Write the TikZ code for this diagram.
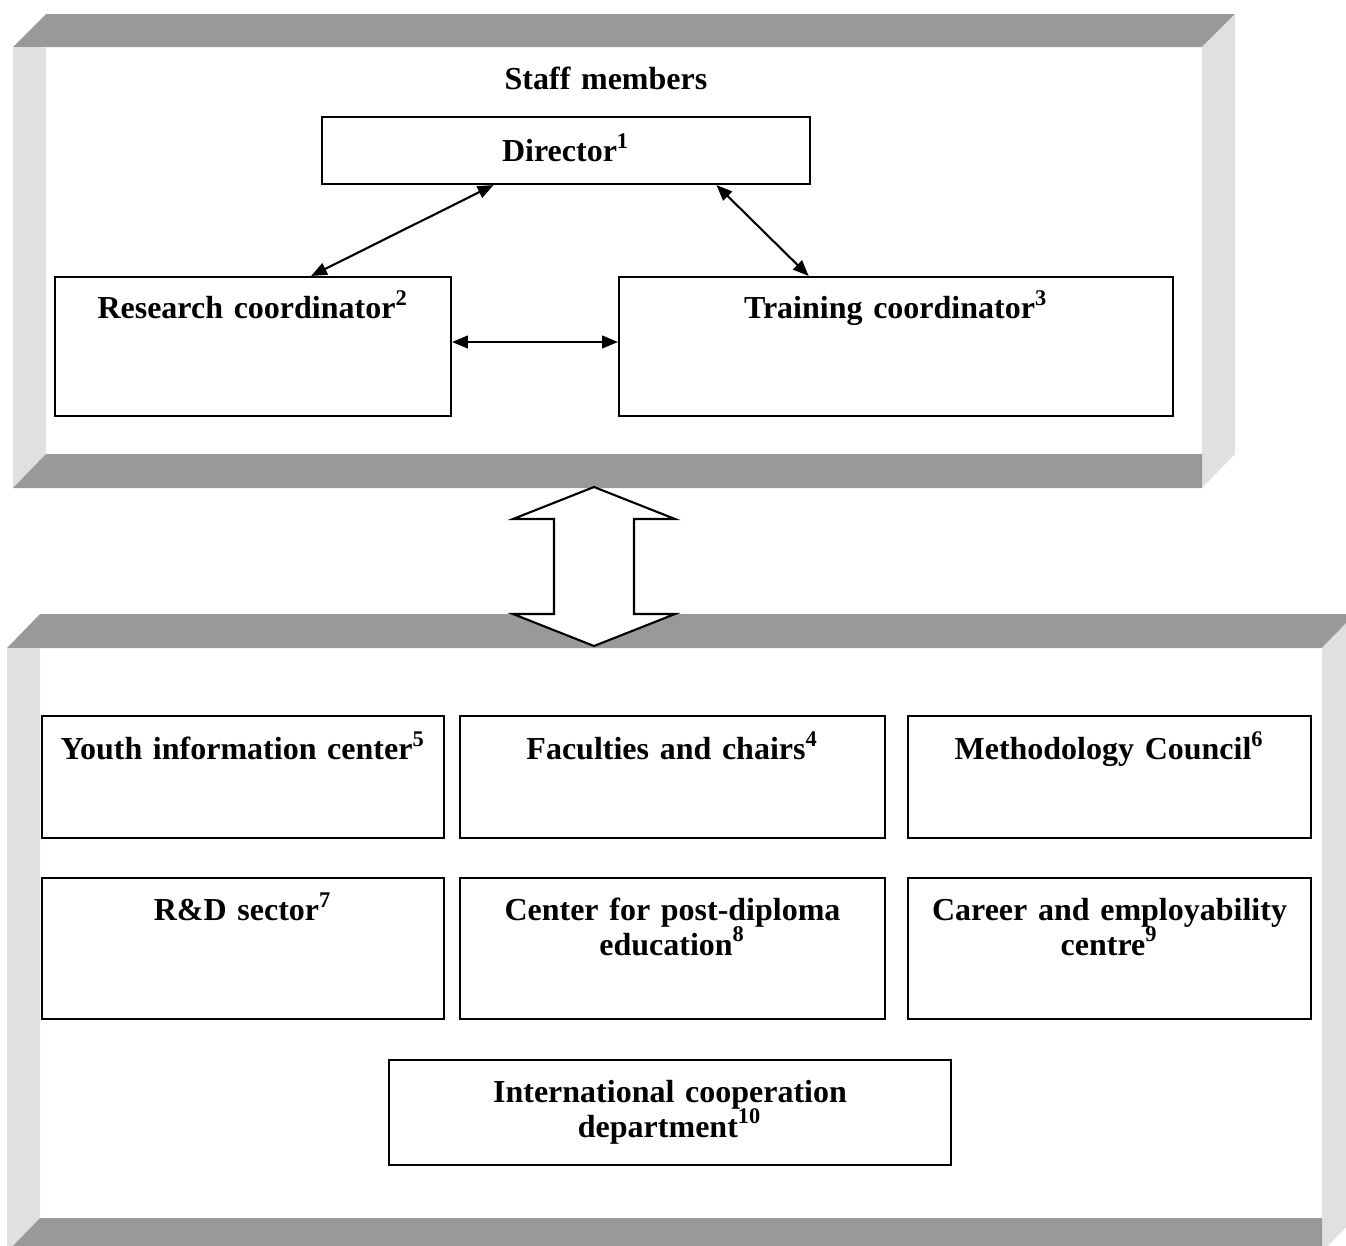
\documentclass[tikz,border=0pt]{standalone}
\usepackage{fontspec}
\setmainfont{Liberation Serif}
\usetikzlibrary{arrows.meta,fit,calc}
\definecolor{bardark}{HTML}{999999}
\definecolor{barlight}{HTML}{E0E0E0}
\tikzset{
 box/.style={draw, line width=0.6pt, fill=white, inner sep=0pt},
 txt/.style={anchor=base, inner sep=0pt, text width=5cm, align=center,
   font=\fontsize{9.1}{9.7}\selectfont\bfseries,
   execute at begin node={\fontsize{9.1}{9.7}\selectfont\bfseries\lineskiplimit=-20pt\relax}},
 link/.style={line width=0.6pt, {Triangle[length=4.5pt,width=3.6pt]}-{Triangle[length=4.5pt,width=3.6pt]}},
 darkbar/.style={fill=bardark},
 lightbar/.style={fill=barlight},
 bigarrow/.style={draw, line width=0.6pt, fill=white, line join=miter}
}
\begin{document}
\begin{tikzpicture}[x=0.01cm,y=-0.01cm]
\useasboundingbox (0,0) rectangle (1346,1245);
\begin{scope}
\clip (0,0) rectangle (1346,1245);
% top frame
\fill[darkbar] (13,47) -- (46,14) -- (1235,14) -- (1202,47) -- cycle;
\fill[lightbar] (13,47) -- (46,47) -- (46,454) -- (13,488) -- cycle;
\fill[lightbar] (1202,47) -- (1235,14) -- (1235,454) -- (1202,488) -- cycle;
\fill[darkbar] (13,488) -- (46,454) -- (1202,454) -- (1202,488) -- cycle;
% bottom frame
\fill[darkbar] (7,648) -- (40,614) -- (1355,614) -- (1322,648) -- cycle;
\fill[lightbar] (7,648) -- (40,648) -- (40,1218) -- (7,1252) -- cycle;
\fill[lightbar] (1322,648) -- (1355,614) -- (1355,1218) -- (1322,1252) -- cycle;
\fill[darkbar] (7,1252) -- (40,1218) -- (1322,1218) -- (1322,1252) -- cycle;
\end{scope}

% big double arrow
\draw[bigarrow] (594,487) -- (675,519) -- (634,519) -- (634,614) -- (675,614)
  -- (594,646) -- (513,614) -- (554,614) -- (554,519) -- (513,519) -- cycle;

% staff members
\node[txt] (staff) at (606,89) {Staff members};

\node[box, fit={(322,117) (810,184)}] (dir) {};
\node[box, fit={(55,277) (451,416)}] (res) {};
\node[box, fit={(619,277) (1173,416)}] (tra) {};
\node[txt] (dirt) at ([yshift=-0.46cm]dir.north) {Director\textsuperscript{1}};
\node[txt] (rest) at ([yshift=-0.43cm]res.north) {Research coordinator\textsuperscript{2}};
\node[txt] (trat) at ([yshift=-0.43cm]tra.north) {Training coordinator\textsuperscript{3}};

\draw[link] ($(dir.south west)!0.352!(dir.south east)$) -- ($(res.north west)!0.646!(res.north east)$);
\draw[link] ($(dir.south west)!0.807!(dir.south east)$) -- ($(tra.north west)!0.343!(tra.north east)$);
\coordinate (hy) at (0,342);
\draw[link] (res.east |- hy) -- (tra.west |- hy);

% bottom boxes
\node[box, fit={(42,716) (444,838)}] (you) {};
\node[box, fit={(460,716) (885,838)}] (fac) {};
\node[box, fit={(908,716) (1311,838)}] (met) {};
\node[box, fit={(42,878) (444,1019)}] (rd) {};
\node[box, fit={(460,878) (885,1019)}] (cen) {};
\node[box, fit={(908,878) (1311,1019)}] (car) {};
\node[box, fit={(389,1060) (951,1165)}] (int) {};

\node[txt] (yout) at ([yshift=-0.45cm]you.north) {Youth information center\textsuperscript{5}};
\node[txt] (fact) at ([yshift=-0.45cm]fac.north) {Faculties and chairs\textsuperscript{4}};
\node[txt] (mett) at ([yshift=-0.45cm]met.north) {Methodology Council\textsuperscript{6}};
\node[txt] (rdt) at ([yshift=-0.44cm]rd.north) {R\&D sector\textsuperscript{7}};
\node[txt] (cent) at ([yshift=-0.44cm]cen.north) {Center for post-diploma\\education\textsuperscript{8}};
\node[txt] (cart) at ([yshift=-0.44cm]car.north) {Career and employability\\centre\textsuperscript{9}};
\node[txt] (intt) at ([yshift=-0.44cm]int.north) {International cooperation\\department\textsuperscript{10}};
\end{tikzpicture}
\end{document}
